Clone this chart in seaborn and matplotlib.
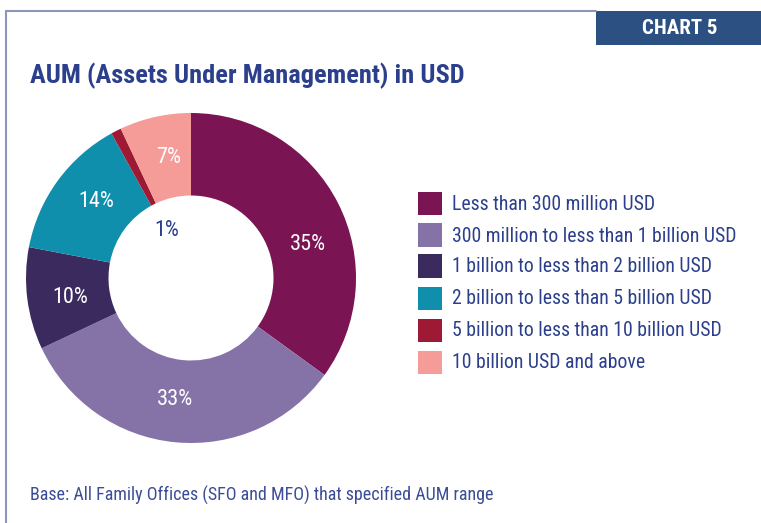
import matplotlib
matplotlib.use("Agg")
import matplotlib.pyplot as plt
from matplotlib.lines import Line2D
from matplotlib.patches import Rectangle
import numpy as np
import seaborn as sns

sns.set_theme(style="white")
plt.rcParams["font.family"] = ["Roboto Condensed", "DejaVu Sans"]

# ---------------------------------------------------------------
# Data
# ---------------------------------------------------------------
categories = [
    "Less than 300 million USD",
    "300 million to less than 1 billion USD",
    "1 billion to less than 2 billion USD",
    "2 billion to less than 5 billion USD",
    "5 billion to less than 10 billion USD",
    "10 billion USD and above",
]
shares = [35, 33, 10, 14, 1, 7]
colors = ["#7a1452", "#8573a8", "#3a2a5e", "#0f8fac", "#9e1a34", "#f59b98"]
label_colors = ["white", "white", "white", "white", "#2b3f8c", "white"]
# small nudges (degrees) of the % labels away from the slice mid-angle
label_shift = [-11, -2, 2, -3, 0, -2]

TITLE_BLUE = "#2b3f8c"
W, H = 761, 523

fig = plt.figure(figsize=(W / 100, H / 100), dpi=100)

# ---------------------------------------------------------------
# Frame: top + left border, "CHART 5" tab
# ---------------------------------------------------------------
fig.add_artist(Line2D([6 / W, 596 / W], [1 - 11 / H, 1 - 11 / H],
                      color="#8a97b8", lw=1.5, transform=fig.transFigure))
fig.add_artist(Line2D([6 / W, 6 / W], [1 - 11 / H, 0],
                      color="#8a97b8", lw=1.5, transform=fig.transFigure))
fig.add_artist(Rectangle((596 / W, 1 - 45 / H), (W - 596) / W, 34 / H,
                         facecolor="#2c5082", edgecolor="none",
                         transform=fig.transFigure))
fig.text(680 / W, 1 - 28 / H, "CHART 5", color="white", fontsize=15,
         fontweight="bold", ha="center", va="center")

fig.text(30 / W, 1 - 76 / H, "AUM (Assets Under Management) in USD",
         color=TITLE_BLUE, fontsize=19, fontweight="bold", ha="left", va="center")

fig.text(30 / W, 1 - 495 / H,
         "Base: All Family Offices (SFO and MFO) that specified AUM range",
         color="#3b4d96", fontsize=13, ha="left", va="center")

# ---------------------------------------------------------------
# Donut
# ---------------------------------------------------------------
cx, cy, r = 191, 278, 165
ax = fig.add_axes([(cx - r) / W, 1 - (cy + r) / H, 2 * r / W, 2 * r / H])
wedges, _ = ax.pie(shares, colors=colors, startangle=90, counterclock=False,
                   radius=1, wedgeprops=dict(width=0.5, edgecolor="none"))
ax.set_xlim(-1, 1)
ax.set_ylim(-1, 1)
ax.set_aspect("equal")
ax.axis("off")

for w, s, lc, sh in zip(wedges, shares, label_colors, label_shift):
    ang = np.deg2rad((w.theta1 + w.theta2) / 2 + sh)
    rad = 0.74
    if s == 1:
        # small slice: label sits inside the hole
        ang, rad = np.deg2rad(117), 0.32
    ax.text(rad * np.cos(ang), rad * np.sin(ang), f"{s}%", color=lc,
            fontsize=16, ha="center", va="center")

# ---------------------------------------------------------------
# Legend (drawn manually to match spacing)
# ---------------------------------------------------------------
rows_y = [203, 235, 266, 298, 330, 362]
for cat, col, y in zip(categories, colors, rows_y):
    fig.add_artist(Rectangle((418 / W, 1 - (y + 11.5) / H), 24 / W, 23 / H,
                             facecolor=col, edgecolor="none",
                             transform=fig.transFigure))
    fig.text(452 / W, 1 - (y + 1) / H, cat, color=TITLE_BLUE, fontsize=14.2,
             ha="left", va="center")

plt.savefig("out.png", dpi=100)
plt.close()
